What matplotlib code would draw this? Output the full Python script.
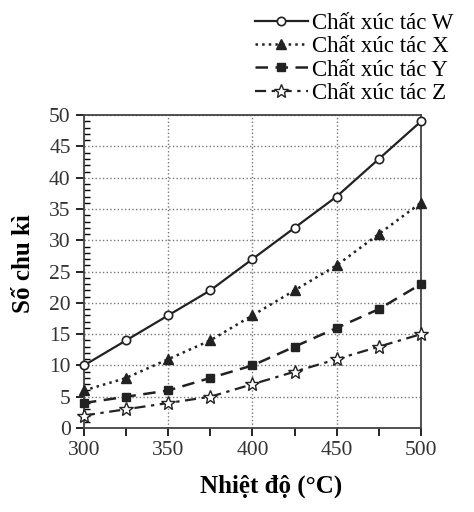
import matplotlib.pyplot as plt
from matplotlib.ticker import MultipleLocator

plt.rcParams['font.family'] = ['Liberation Serif', 'DejaVu Serif']

temps = [300, 325, 350, 375, 400, 425, 450, 475, 500]
cat_w = [10, 14, 18, 22, 27, 32, 37, 43, 49]
cat_x = [6, 8, 11, 14, 18, 22, 26, 31, 36]
cat_y = [4, 5, 6, 8, 10, 13, 16, 19, 23]
cat_z = [2, 3, 4, 5, 7, 9, 11, 13, 15]
labels = ['Chất xúc tác W', 'Chất xúc tác X', 'Chất xúc tác Y', 'Chất xúc tác Z']

fig = plt.figure(figsize=(4.74, 5.12), dpi=100)
ax = fig.add_axes([0.177, 0.164, 0.711, 0.611])

ax.plot(temps, cat_w, '-', color='#222222', lw=1.6, marker='o', ms=6,
        mfc='white', mec='#222222', mew=1.2, label=labels[0], clip_on=False, zorder=5)
ax.plot(temps, cat_x, ':', color='#222222', lw=1.8, marker='^', ms=7,
        mfc='#222222', mec='#222222', label=labels[1], clip_on=False, zorder=5)
ax.plot(temps, cat_y, '--', color='#222222', lw=1.8, dashes=(5, 3), marker='s', ms=5.5,
        mfc='#222222', mec='#222222', label=labels[2], clip_on=False, zorder=5)
ax.plot(temps, cat_z, '-.', color='#222222', lw=1.6, dashes=(5, 2.5, 1.5, 2.5), marker='*', ms=10,
        mfc='white', mec='#222222', mew=1.0, label=labels[3], clip_on=False, zorder=5)

ax.set_xlim(300, 500)
ax.set_ylim(0, 50)
ax.xaxis.set_major_locator(MultipleLocator(50))
ax.xaxis.set_minor_locator(MultipleLocator(25))
ax.yaxis.set_major_locator(MultipleLocator(5))
ax.yaxis.set_minor_locator(MultipleLocator(1))

ax.grid(True, which='major', linestyle=':', color='#777777', lw=1.0)
ax.tick_params(axis='both', which='major', labelsize=15.5, labelcolor='#333333',
               direction='out', length=6, width=1.2)
ax.tick_params(axis='x', which='minor', direction='out', length=6, width=1.2)
ax.tick_params(axis='y', which='minor', direction='in', length=4, width=1.0)
for sp in ax.spines.values():
    sp.set_linewidth(1.3)
    sp.set_color('#444444')

ax.set_xlabel('Nhiệt độ (°C)', fontsize=18, fontweight='bold')
ax.xaxis.set_label_coords(0.555, -0.15)
ax.set_ylabel('Số chu kì', fontsize=18, fontweight='bold')
ax.yaxis.set_label_coords(-0.145, 0.525)

ax.legend(loc='lower right', bbox_to_anchor=(1.145, 0.985), frameon=False, fontsize=16.5,
          handlelength=2.3, handletextpad=0.2, labelspacing=0.1, borderaxespad=0.3)

fig.savefig('out.png', dpi=100)
